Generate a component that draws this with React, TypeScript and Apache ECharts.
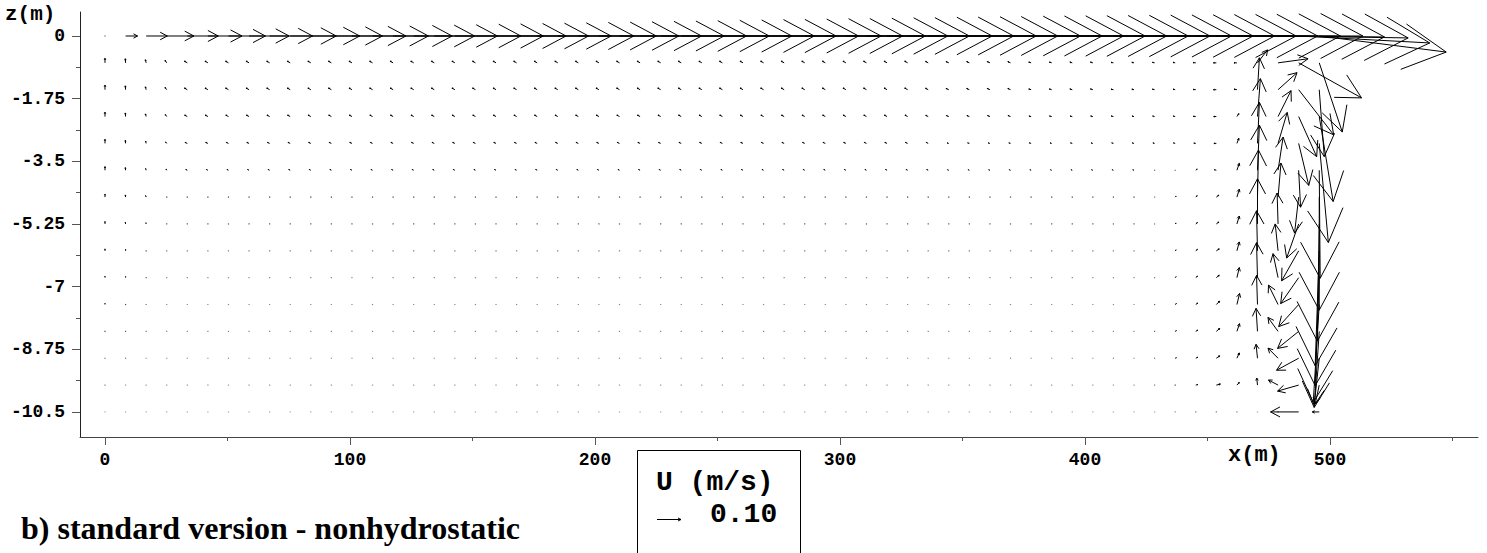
import { useEffect, useRef } from 'react';
import * as echarts from 'echarts';

// grid positions (m)
const xGrid = [
  0, 8.4, 16.8, 25.2, 33.6, 42, 50.4, 58.8, 67.2, 75.6,
  84, 92.4, 100.8, 109.2, 117.6, 126, 134.4, 142.8, 151.2, 159.6,
  168, 176.4, 184.8, 193.2, 201.6, 210, 218.4, 226.8, 235.2, 243.6,
  252, 260.4, 268.8, 277.2, 285.6, 294, 302.4, 310.8, 319.2, 327.6,
  336, 344.4, 352.8, 361.2, 369.6, 378, 386.4, 394.8, 403.2, 411.6,
  420, 428.4, 436.8, 445.2, 453.6, 462, 470.4, 478.8, 487.2, 495.6,
];
const zGrid = [0, -0.75, -1.5, -2.25, -3, -3.75, -4.5, -5.25, -6, -6.75, -7.5, -8.25, -9, -9.75, -10.5];

// velocity components (mm/s): u horizontal, w vertical (positive up), one array per depth row
const u0 = [
  4, 50, 88, 113, 129, 142, 154, 167, 179, 192,
  204, 213, 225, 233, 246, 254, 263, 275, 283, 292,
  300, 308, 317, 325, 333, 342, 350, 358, 367, 375,
  383, 388, 396, 404, 408, 417, 425, 429, 438, 442,
  450, 454, 463, 467, 471, 475, 479, 483, 488, 492,
  496, 500, 504, 508, 517, 525, 529, 542, 546, 529,
];
const w0 = [
  0, 0, 0, 0, 0, 0, 0, 0, 0, 0,
  0, 0, 0, 0, 0, 0, 0, 0, 0, 0,
  0, 0, 0, 0, 0, 0, 0, 0, 0, 0,
  0, 0, 0, 0, 0, 0, 0, 0, 0, 0,
  0, 0, 0, 0, 0, 0, 0, 0, 0, 0,
  0, 0, 0, 0, 0, 0, -4, -8, -29, -67,
];
const u1 = [
  0, -1, -3, -7, -12, -12, -12, -12, -12, -12,
  -12, -12, -12, -12, -12, -12, -12, -12, -12, -12,
  -12, -12, -12, -12, -12, -12, -12, -12, -12, -12,
  -12, -12, -12, -12, -12, -12, -12, -12, -12, -12,
  -11, -11, -11, -11, -11, -10, -10, -10, -10, -10,
  -9, -9, -9, -11, -12, -12, 42, 125, 262, 96,
];
const w1 = [
  19, 17, 13, 10, 7, 7, 7, 7, 7, 7,
  7, 7, 7, 7, 7, 7, 7, 7, 7, 7,
  7, 7, 7, 7, 7, 7, 7, 7, 7, 7,
  7, 7, 7, 7, 7, 7, 7, 7, 7, 7,
  6, 5, 5, 5, 5, 3, 3, 3, 3, 2,
  2, 2, 2, 1, 0, 0, 54, 17, -146, -288,
];
const u2 = [
  0, -1, -3, -7, -12, -12, -12, -12, -12, -12,
  -12, -12, -12, -12, -12, -12, -12, -12, -12, -12,
  -12, -12, -12, -12, -12, -12, -12, -12, -12, -12,
  -12, -12, -12, -12, -12, -12, -12, -12, -12, -12,
  -11, -11, -11, -11, -11, -10, -10, -10, -10, -10,
  -9, -9, -9, -11, -12, -12, 8, 79, 146, 21,
];
const w2 = [
  19, 16, 12, 9, 7, 7, 7, 7, 7, 7,
  7, 7, 7, 7, 7, 7, 7, 7, 7, 7,
  7, 7, 7, 7, 7, 7, 7, 7, 7, 7,
  7, 7, 7, 7, 7, 7, 7, 7, 7, 7,
  6, 5, 5, 5, 5, 3, 3, 3, 3, 2,
  2, 2, 2, 1, 0, 2, 133, 71, -188, -279,
];
const u3 = [
  0, -1, -3, -6, -11, -11, -11, -11, -11, -11,
  -11, -11, -11, -11, -11, -11, -11, -11, -11, -11,
  -11, -11, -11, -11, -11, -11, -11, -11, -11, -11,
  -11, -11, -11, -11, -11, -11, -11, -11, -11, -11,
  -10, -10, -10, -10, -10, -9, -9, -9, -9, -9,
  -8, -8, -8, -10, -11, 8, 12, 54, 75, 58,
];
const w3 = [
  18, 15, 11, 8, 6, 6, 6, 6, 6, 6,
  6, 6, 6, 6, 6, 6, 6, 6, 6, 6,
  6, 6, 6, 6, 6, 6, 6, 6, 6, 6,
  6, 6, 6, 6, 6, 6, 6, 6, 6, 6,
  5, 4, 4, 4, 4, 2, 2, 2, 2, 2,
  2, 2, 2, 1, 0, 12, 158, 108, -167, -354,
];
const u4 = [
  0, -1, -2, -5, -9, -9, -9, -9, -9, -9,
  -9, -9, -9, -9, -9, -9, -9, -9, -9, -9,
  -9, -9, -9, -9, -9, -9, -9, -9, -9, -9,
  -9, -9, -9, -9, -9, -9, -9, -9, -9, -9,
  -8, -7, -7, -7, -7, -7, -7, -7, -7, -7,
  -7, -7, -7, -8, -10, 8, 8, 38, 42, 38,
];
const w4 = [
  17, 13, 9, 6, 4, 4, 4, 4, 4, 4,
  4, 4, 4, 4, 4, 4, 4, 4, 4, 4,
  4, 4, 4, 4, 4, 4, 4, 4, 4, 4,
  4, 4, 4, 4, 4, 4, 4, 4, 4, 4,
  4, 2, 2, 2, 2, 2, 2, 2, 2, 2,
  2, 2, 2, 1, 0, 21, 171, 129, -175, -413,
];
const u5 = [
  0, -1, -2, -3, -6, -6, -6, -6, -6, -6,
  -6, -6, -6, -6, -6, -6, -6, -6, -6, -6,
  -6, -6, -6, -6, -6, -6, -6, -6, -6, -6,
  -6, -6, -6, -6, -6, -6, -6, -6, -6, -6,
  -6, -5, -5, -5, -5, -5, -5, -5, -5, -5,
  -5, -2, 2, 6, -8, 10, 8, 21, 8, 4,
];
const w5 = [
  15, 11, 7, 5, 3, 3, 3, 3, 3, 3,
  3, 3, 3, 3, 3, 3, 3, 3, 3, 3,
  3, 3, 3, 3, 3, 3, 3, 3, 3, 3,
  3, 3, 3, 3, 3, 3, 3, 3, 3, 3,
  3, 2, 2, 2, 2, 2, 2, 2, 2, 2,
  2, 2, 3, 5, 2, 29, 188, 138, -154, -450,
];
const u6 = [
  0, -1, -2, -2, -4, -4, -4, -4, -4, -4,
  -4, -4, -4, -4, -4, -4, -4, -4, -4, -4,
  -4, -4, -4, -4, -4, -4, -4, -4, -4, -4,
  -4, -4, -4, -4, -4, -4, -4, -4, -4, -4,
  -4, -4, -4, -4, -4, -4, -4, -4, -4, -4,
  -4, 0, 4, 6, 10, 10, 4, 12, -17, 0,
];
const w6 = [
  12, 9, 6, 4, 2, 2, 2, 2, 2, 2,
  2, 2, 2, 2, 2, 2, 2, 2, 2, 2,
  2, 2, 2, 2, 2, 2, 2, 2, 2, 2,
  2, 2, 2, 2, 2, 2, 2, 2, 2, 2,
  2, 2, 2, 2, 2, 2, 2, 2, 2, 2,
  2, 2, 4, 6, 8, 33, 196, 142, -150, -471,
];
const u7 = [
  0, -1, -1, -2, -3, -3, -3, -3, -3, -3,
  -3, -3, -3, -3, -3, -3, -3, -3, -3, -3,
  -3, -3, -3, -3, -3, -3, -3, -3, -3, -3,
  -3, -3, -3, -3, -3, -3, -3, -3, -3, -3,
  -3, -3, -3, -3, -3, -3, -3, -3, -3, -3,
  -3, 1, 4, 7, 10, 10, 0, -4, -50, -8,
];
const w7 = [
  10, 7, 5, 3, 2, 2, 2, 2, 2, 2,
  2, 2, 2, 2, 2, 2, 2, 2, 2, 2,
  2, 2, 2, 2, 2, 2, 2, 2, 2, 2,
  2, 2, 2, 2, 2, 2, 2, 2, 2, 2,
  2, 2, 2, 2, 2, 2, 2, 2, 2, 2,
  2, 2, 4, 6, 8, 33, 188, 129, -142, -488,
];
const u8 = [
  0, 0, -1, -1, -2, -2, -2, -2, -2, -2,
  -2, -2, -2, -2, -2, -2, -2, -2, -2, -2,
  -2, -2, -2, -2, -2, -2, -2, -2, -2, -2,
  -2, -2, -2, -2, -2, -2, -2, -2, -2, -2,
  -2, -2, -2, -2, -2, -2, -2, -2, -2, -2,
  -2, 1, 4, 7, 12, 10, -4, -12, -71, -17,
];
const w8 = [
  8, 6, 4, 2, 1, 1, 1, 1, 1, 1,
  1, 1, 1, 1, 1, 1, 1, 1, 1, 1,
  1, 1, 1, 1, 1, 1, 1, 1, 1, 1,
  1, 1, 1, 1, 1, 1, 1, 1, 1, 1,
  1, 1, 1, 1, 1, 1, 1, 1, 1, 1,
  1, 2, 4, 6, 8, 37, 167, 112, -125, -479,
];
const u9 = [
  0, 0, -1, -1, -1, -1, -1, -1, -1, -1,
  -1, -1, -1, -1, -1, -1, -1, -1, -1, -1,
  -1, -1, -1, -1, -1, -1, -1, -1, -1, -1,
  -1, -1, -1, -1, -1, -1, -1, -1, -1, -1,
  -1, -1, -1, -1, -1, -1, -1, -1, -1, -1,
  -1, 1, 4, 7, 12, 10, -4, -21, -75, -17,
];
const w9 = [
  6, 5, 3, 1, 1, 1, 1, 1, 1, 1,
  1, 1, 1, 1, 1, 1, 1, 1, 1, 1,
  1, 1, 1, 1, 1, 1, 1, 1, 1, 1,
  1, 1, 1, 1, 1, 1, 1, 1, 1, 1,
  1, 1, 1, 1, 1, 1, 1, 1, 1, 1,
  1, 2, 4, 6, 10, 42, 146, 100, -108, -450,
];
const u10 = [
  0, 0, -1, -1, -1, -1, -1, -1, -1, -1,
  -1, -1, -1, -1, -1, -1, -1, -1, -1, -1,
  -1, -1, -1, -1, -1, -1, -1, -1, -1, -1,
  -1, -1, -1, -1, -1, -1, -1, -1, -1, -1,
  -1, -1, -1, -1, -1, -1, -1, -1, -1, -1,
  -1, 2, 5, 8, 14, 11, -4, -40, -83, -25,
];
const w10 = [
  5, 4, 2, 1, 1, 1, 1, 1, 1, 1,
  1, 1, 1, 1, 1, 1, 1, 1, 1, 1,
  1, 1, 1, 1, 1, 1, 1, 1, 1, 1,
  1, 1, 1, 1, 1, 1, 1, 1, 1, 1,
  1, 1, 1, 1, 1, 1, 1, 1, 1, 1,
  1, 2, 4, 6, 14, 46, 121, 81, -92, -408,
];
const u11 = [
  0, 0, -1, -1, -1, -1, -1, -1, -1, -1,
  -1, -1, -1, -1, -1, -1, -1, -1, -1, -1,
  -1, -1, -1, -1, -1, -1, -1, -1, -1, -1,
  -1, -1, -1, -1, -1, -1, -1, -1, -1, -1,
  -1, -1, -1, -1, -1, -1, -1, -1, -1, -1,
  -1, 2, 5, 8, 14, 11, -6, -42, -88, -21,
];
const w11 = [
  4, 3, 2, 1, 1, 1, 1, 1, 1, 1,
  1, 1, 1, 1, 1, 1, 1, 1, 1, 1,
  1, 1, 1, 1, 1, 1, 1, 1, 1, 1,
  1, 1, 1, 1, 1, 1, 1, 1, 1, 1,
  1, 1, 1, 1, 1, 1, 1, 1, 1, 1,
  1, 2, 3, 5, 12, 32, 96, 58, -71, -317,
];
const u12 = [
  0, 0, -1, -1, -1, -1, -1, -1, -1, -1,
  -1, -1, -1, -1, -1, -1, -1, -1, -1, -1,
  -1, -1, -1, -1, -1, -1, -1, -1, -1, -1,
  -1, -1, -1, -1, -1, -1, -1, -1, -1, -1,
  -1, -1, -1, -1, -1, -1, -1, -1, -1, -1,
  -1, 2, 5, 8, 14, 10, -6, -42, -92, -21,
];
const w12 = [
  3, 2, 1, 1, 1, 1, 1, 1, 1, 1,
  1, 1, 1, 1, 1, 1, 1, 1, 1, 1,
  1, 1, 1, 1, 1, 1, 1, 1, 1, 1,
  1, 1, 1, 1, 1, 1, 1, 1, 1, 1,
  1, 1, 1, 1, 1, 1, 1, 1, 1, 1,
  1, 1, 2, 4, 10, 22, 58, 42, -50, -196,
];
const u13 = [
  0, 0, -1, -1, -1, -1, -1, -1, -1, -1,
  -1, -1, -1, -1, -1, -1, -1, -1, -1, -1,
  -1, -1, -1, -1, -1, -1, -1, -1, -1, -1,
  -1, -1, -1, -1, -1, -1, -1, -1, -1, -1,
  -1, -1, -1, -1, -1, -1, -1, -1, -1, -1,
  -1, 2, 4, 8, 17, 10, -3, -40, -88, -17,
];
const w13 = [
  2, 1, 0, 0, 0, 0, 0, 0, 0, 0,
  0, 0, 0, 0, 0, 0, 0, 0, 0, 0,
  0, 0, 0, 0, 0, 0, 0, 0, 0, 0,
  0, 0, 0, 0, 0, 0, 0, 0, 0, 0,
  0, 0, 0, 0, 0, 0, 0, 0, 0, 0,
  0, 0, 1, 2, 4, 11, 29, 21, -25, -79,
];
const u14 = [
  0, 0, 0, 0, 0, 0, 0, 0, 0, 0,
  0, 0, 0, 0, 0, 0, 0, 0, 0, 0,
  0, 0, 0, 0, 0, 0, 0, 0, 0, 0,
  0, 0, 0, 0, 0, 0, 0, 0, 0, 0,
  0, 0, 0, 0, 0, 0, 0, 0, 0, 0,
  0, 0, 1, 2, 2, 2, 0, -4, -117, -29,
];
const w14 = [
  0, 0, 0, 0, 0, 0, 0, 0, 0, 0,
  0, 0, 0, 0, 0, 0, 0, 0, 0, 0,
  0, 0, 0, 0, 0, 0, 0, 0, 0, 0,
  0, 0, 0, 0, 0, 0, 0, 0, 0, 0,
  0, 0, 0, 0, 0, 0, 0, 0, 0, 0,
  0, 0, 0, 0, 0, 0, 0, 0, 0, 0,
];

const xMajorTicks = [0, 100, 200, 300, 400, 500];
const xMinorTicks = [50, 150, 250, 350, 450, 550];
const zMajorTicks = [0, -1.75, -3.5, -5.25, -7, -8.75, -10.5];
const zMinorTicks = [-0.875, -2.625, -4.375, -6.125, -7.875, -9.625];

const REF_SPEED = 100; // mm/s  (0.10 m/s)
const REF_LABEL = '0.10';
const PX_PER_MMS = 0.24; // arrow length scale

const X_MIN = -10.2;
const X_MAX = 560.4;
const Z_MIN = -11.2;
const Z_MAX = 0.67;

const MONO = '"Liberation Mono", "DejaVu Sans Mono", monospace';

export default function App() {
  const ref = useRef<HTMLDivElement>(null);

  useEffect(() => {
    document.body.style.margin = '0';
    const chart = echarts.init(ref.current as HTMLDivElement, null, { renderer: 'svg' });

    const uRows = [u0, u1, u2, u3, u4, u5, u6, u7, u8, u9, u10, u11, u12, u13, u14];
    const wRows = [w0, w1, w2, w3, w4, w5, w6, w7, w8, w9, w10, w11, w12, w13, w14];
    const data: number[][] = [];
    zGrid.forEach((z, j) => {
      xGrid.forEach((x, i) => {
        data.push([x, z, uRows[j][i], wRows[j][i]]);
      });
    });

    const headAngle = (28 * Math.PI) / 180;
    const renderItem = (_params: any, api: any) => {
      const x = api.value(0);
      const z = api.value(1);
      const u = api.value(2);
      const w = api.value(3);
      const p = api.coord([x, z]);
      const dx = u * PX_PER_MMS;
      const dy = -w * PX_PER_MMS;
      const L = Math.hypot(dx, dy);
      if (L < 1.2) {
        return {
          type: 'rect',
          shape: { x: p[0] - 0.6, y: p[1] - 0.6, width: 1.2, height: 1.2 },
          style: { fill: '#000', opacity: 0.35 + 0.45 * (L / 1.2) },
        };
      }
      const tx = p[0] + dx;
      const ty = p[1] + dy;
      const h = 0.38 * L;
      const ang = Math.atan2(dy, dx);
      const a1 = [tx - h * Math.cos(ang - headAngle), ty - h * Math.sin(ang - headAngle)];
      const a2 = [tx - h * Math.cos(ang + headAngle), ty - h * Math.sin(ang + headAngle)];
      return {
        type: 'group',
        children: [
          {
            type: 'line',
            shape: { x1: p[0], y1: p[1], x2: tx, y2: ty },
            style: { stroke: '#000', lineWidth: 1 },
          },
          {
            type: 'polyline',
            shape: { points: [a1, [tx, ty], a2] },
            style: { stroke: '#000', lineWidth: 1, fill: null },
          },
        ],
      };
    };

    const tickLabel = {
      fontFamily: MONO,
      fontWeight: 'bold',
      fontSize: 18,
      color: '#000',
    };

    const refLen = REF_SPEED * PX_PER_MMS;

    chart.setOption({
      animation: false,
      backgroundColor: '#fff',
      title: {
        text: 'b) standard version - nonhydrostatic',
        left: 16,
        top: 507,
        textStyle: {
          fontFamily: '"Liberation Serif", "Times New Roman", serif',
          fontWeight: 'bold',
          fontSize: 32,
          color: '#000',
        },
      },
      grid: { left: 80, right: 9, top: 12, bottom: 116, containLabel: false },
      xAxis: [
        {
          type: 'value',
          min: X_MIN,
          max: X_MAX,
          position: 'bottom',
          axisLine: { show: true, onZero: false, lineStyle: { color: '#444', width: 1 } },
          axisTick: { show: true, length: 8, customValues: xMajorTicks, lineStyle: { color: '#555' } },
          axisLabel: { show: true, customValues: xMajorTicks, margin: 14, formatter: (v: number) => String(v), ...tickLabel },
          splitLine: { show: false },
        },
        {
          type: 'value',
          min: X_MIN,
          max: X_MAX,
          position: 'bottom',
          axisLine: { show: false, onZero: false },
          axisTick: { show: true, length: 4, customValues: xMinorTicks, lineStyle: { color: '#555' } },
          axisLabel: { show: false },
          splitLine: { show: false },
        },
      ],
      yAxis: [
        {
          type: 'value',
          min: Z_MIN,
          max: Z_MAX,
          position: 'left',
          axisLine: { show: true, onZero: false, lineStyle: { color: '#222', width: 1 } },
          axisTick: { show: true, length: 8, customValues: zMajorTicks, lineStyle: { color: '#555' } },
          axisLabel: { show: true, customValues: zMajorTicks, margin: 15, formatter: (v: number) => String(v), ...tickLabel },
          splitLine: { show: false },
        },
        {
          type: 'value',
          min: Z_MIN,
          max: Z_MAX,
          position: 'left',
          axisLine: { show: false, onZero: false },
          axisTick: { show: true, length: 4, customValues: zMinorTicks, lineStyle: { color: '#555' } },
          axisLabel: { show: false },
          splitLine: { show: false },
        },
      ],
      series: [
        {
          type: 'custom',
          name: 'U',
          xAxisIndex: 0,
          yAxisIndex: 0,
          coordinateSystem: 'cartesian2d',
          renderItem,
          encode: { x: 0, y: 1 },
          data,
          clip: false,
          silent: true,
        },
      ],
      graphic: [
        {
          type: 'text',
          left: 5,
          top: 4,
          style: { text: 'z(m)', font: `bold 21px ${MONO}`, fill: '#000' },
        },
        {
          type: 'text',
          left: 1228,
          top: 444,
          style: { text: 'x(m)', font: `bold 22px ${MONO}`, fill: '#000' },
        },
        {
          type: 'group',
          left: 637,
          top: 450,
          children: [
            {
              type: 'rect',
              shape: { x: 0.5, y: 0.5, width: 163, height: 120 },
              style: { fill: '#fff', stroke: '#000', lineWidth: 1 },
            },
            {
              type: 'text',
              x: 19,
              y: 32,
              style: { text: 'U (m/s)', font: `bold 28px ${MONO}`, fill: '#000', verticalAlign: 'middle' },
            },
            {
              type: 'line',
              shape: { x1: 20, y1: 69.5, x2: 20 + refLen, y2: 69.5 },
              style: { stroke: '#000', lineWidth: 1 },
            },
            {
              type: 'polyline',
              shape: { points: [[20 + refLen - 3, 68], [20 + refLen, 69.5], [20 + refLen - 3, 71]] },
              style: { stroke: '#000', lineWidth: 1, fill: null },
            },
            {
              type: 'text',
              x: 73,
              y: 64,
              style: { text: REF_LABEL, font: `bold 28px ${MONO}`, fill: '#000', verticalAlign: 'middle' },
            },
          ],
        },
      ],
    });

    return () => {
      chart.dispose();
    };
  }, []);

  return <div ref={ref} style={{ width: 1487, height: 553 }} />;
}
